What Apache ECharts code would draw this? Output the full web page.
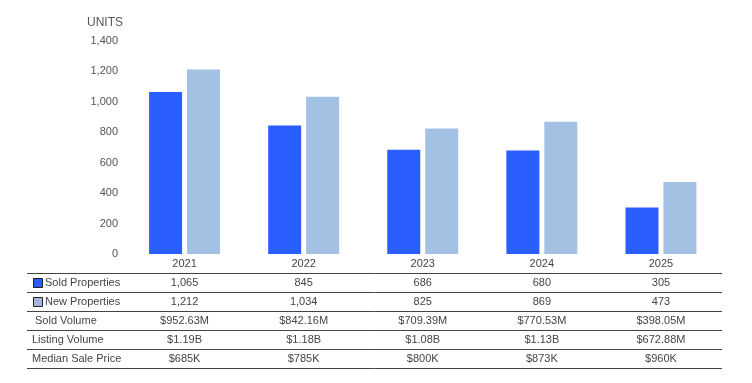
<!DOCTYPE html>
<html><head><meta charset="utf-8">
<script src="https://cdn.jsdelivr.net/npm/echarts@6/dist/echarts.min.js"></script>
<style>html,body{margin:0;padding:0;background:#fff}#c{width:752px;height:383px}</style>
</head><body><div id="c"></div>
<script>
const years = ['2021','2022','2023','2024','2025'];
const soldProperties = [1065, 845, 686, 680, 305];
const newProperties = [1212, 1034, 825, 869, 473];
const soldVolume = ['$952.63M','$842.16M','$709.39M','$770.53M','$398.05M'];
const listingVolume = ['$1.19B','$1.18B','$1.08B','$1.13B','$672.88M'];
const medianSalePrice = ['$685K','$785K','$800K','$873K','$960K'];
const rowLabels = ['Sold Properties','New Properties','Sold Volume','Listing Volume','Median Sale Price'];
const yTicks = {min:0, max:1400, interval:200};

const SOLD = '#2B5EFF', NEW = '#A2C1E3';
const FONT = '"Liberation Sans", Arial, sans-serif';
const fmt = v => v.toLocaleString('en-US');
const rows = [soldProperties.map(fmt), newProperties.map(fmt), soldVolume, listingVolume, medianSalePrice];

const chart = echarts.init(document.getElementById('c'));
const xAxes = [{
  type:'category', data: years, gridIndex:0, position:'bottom',
  axisLine:{show:false}, axisTick:{show:false},
  axisLabel:{color:'#444', fontSize:11, fontFamily:FONT, margin:4}
}];
rows.forEach((r,i)=>{
  xAxes.push({
    type:'category', data:r, gridIndex:0, position:'bottom', offset:19*(i+1),
    axisLine:{show:false}, axisTick:{show:false},
    axisLabel:{color:'#444', fontSize:11, fontFamily:FONT, margin:4, interval:0}
  });
});

const graphics = [];
const lineYs = [273,292,311,330,349,368];
lineYs.forEach(y=>graphics.push({type:'line', shape:{x1:27,y1:y+0.5,x2:722,y2:y+0.5}, style:{stroke:'#444', lineWidth:1}, silent:true}));
const labelX = [45,45,35,32,32];
rowLabels.forEach((t,i)=>graphics.push({type:'text', x:labelX[i], y:283+19*i, style:{text:t, fill:'#444', font:'11px '+FONT, textVerticalAlign:'middle'}}));
graphics.push({type:'rect', shape:{x:33.5,y:278.5,width:9,height:9}, style:{fill:SOLD, stroke:'#222', lineWidth:1}});
graphics.push({type:'rect', shape:{x:33.5,y:297.5,width:9,height:9}, style:{fill:'#A8B4DC', stroke:'#222', lineWidth:1}});

chart.setOption({
  animation:false,
  grid:{left:125, right:31.5, top:41, bottom:129, containLabel:false},
  xAxis: xAxes,
  yAxis:{
    type:'value', min:yTicks.min, max:yTicks.max, interval:yTicks.interval,
    name:'UNITS', nameLocation:'end', nameGap:12,
    nameTextStyle:{color:'#555', fontSize:12, fontFamily:FONT, align:'right', padding:[0,2,0,0]},
    axisLine:{show:false}, axisTick:{show:false}, splitLine:{show:false},
    axisLabel:{color:'#555', fontSize:11, fontFamily:FONT, margin:7}
  },
  series:[
    {type:'bar', name:'Sold Properties', data:soldProperties, barWidth:33, barGap:'15%', itemStyle:{color:SOLD}, xAxisIndex:0},
    {type:'bar', name:'New Properties', data:newProperties, barWidth:33, barGap:'15%', itemStyle:{color:NEW}, xAxisIndex:0}
  ],
  graphic: graphics
});
</script></body></html>
